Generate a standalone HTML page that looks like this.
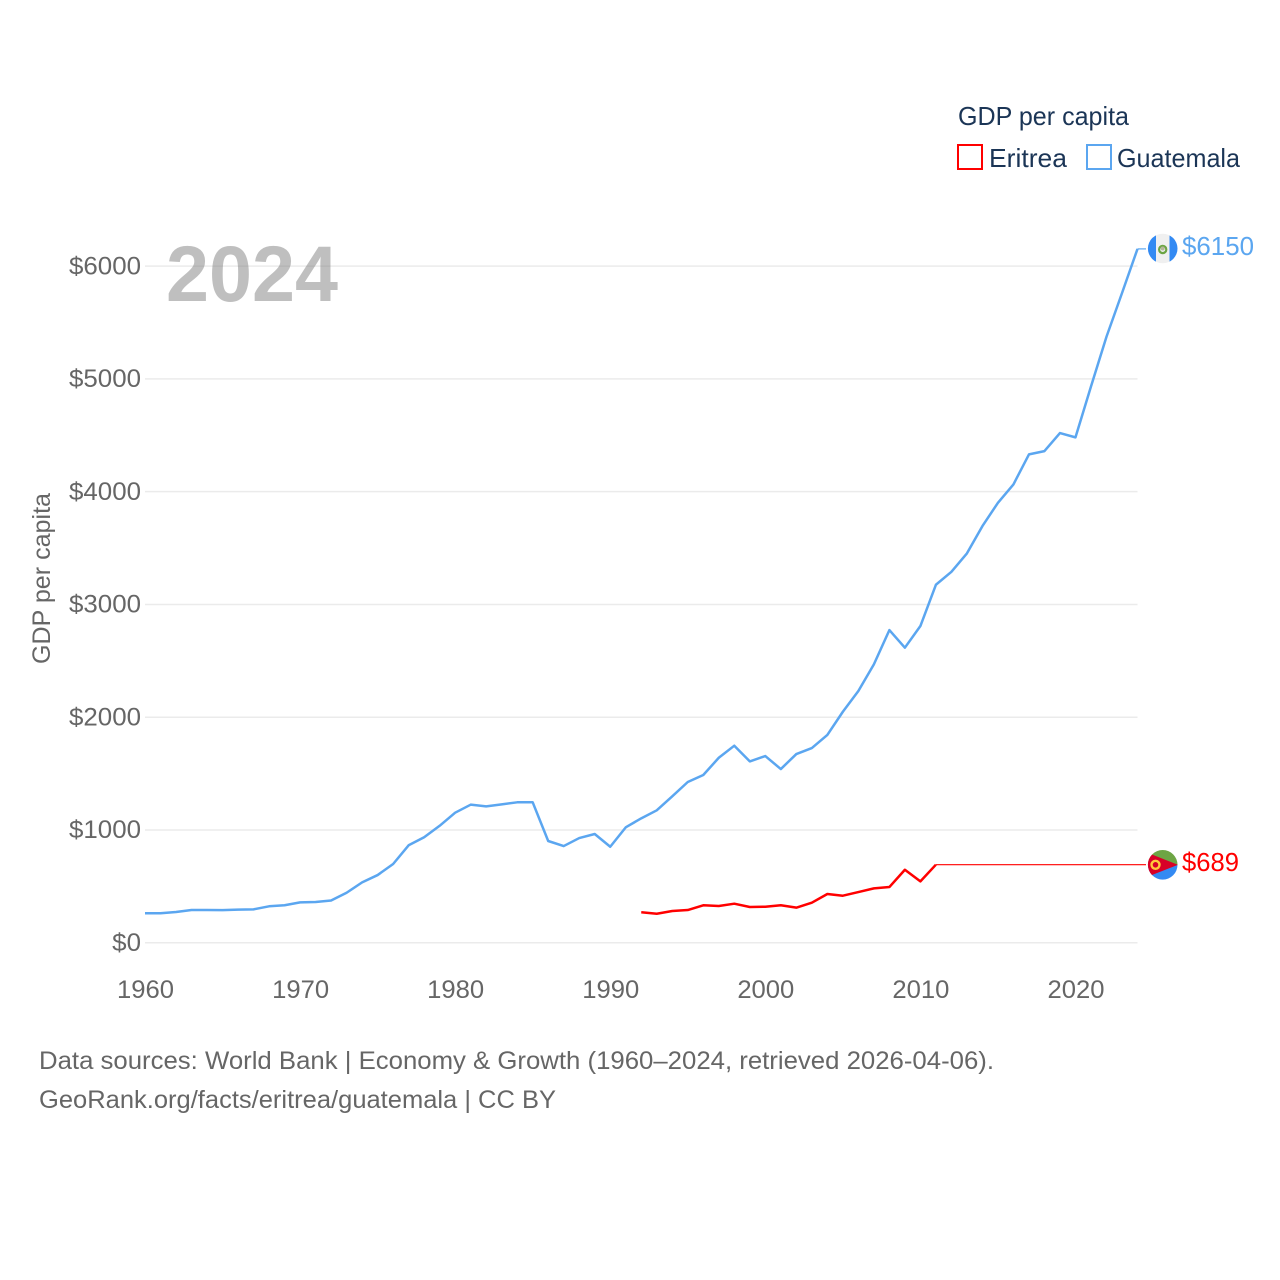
<!DOCTYPE html>
<html lang="en">
<head>
<meta charset="utf-8">
<title>GDP per capita: Eritrea and Guatemala</title>
<style>
html,body{margin:0;padding:0;background:#fff;}
svg{display:block;}
text{font-family:"Liberation Sans",sans-serif;}
</style>
</head>
<body>
<svg id="chart" xmlns="http://www.w3.org/2000/svg" width="1280" height="1280" viewBox="0 0 1280 1280">
  <defs>
    <clipPath id="flag-clip-gt"><circle cx="1162.7" cy="248.5" r="14.8"/></clipPath>
    <clipPath id="flag-clip-er"><circle cx="1162.7" cy="864.8" r="14.8"/></clipPath>
  </defs>
  <rect width="1280" height="1280" fill="#fff"/>
  <g id="grid"></g>
  <g id="y-ticks"></g>
  <g id="x-ticks"></g>
  <text x="166" y="301" font-size="79" font-weight="700" fill="#808080" fill-opacity="0.5" textLength="172" lengthAdjust="spacingAndGlyphs">2024</text>
  <text transform="translate(50,664) rotate(-90)" font-size="25" fill="#666" textLength="171" lengthAdjust="spacingAndGlyphs">GDP per capita</text>
  <g id="series"></g>

  <g>
    <text x="958" y="125" font-size="26" fill="#1b3556" textLength="171" lengthAdjust="spacingAndGlyphs">GDP per capita</text>
    <rect x="958" y="145" width="24" height="24" fill="none" stroke="#ff0000" stroke-width="2"/>
    <text x="989" y="167" font-size="26" fill="#1b3556" textLength="78" lengthAdjust="spacingAndGlyphs">Eritrea</text>
    <rect x="1087" y="145" width="24" height="24" fill="none" stroke="#5ba6f0" stroke-width="2"/>
    <text x="1117" y="167" font-size="26" fill="#1b3556" textLength="123" lengthAdjust="spacingAndGlyphs">Guatemala</text>
  </g>

  <g clip-path="url(#flag-clip-gt)">
    <rect x="1147" y="233" width="32" height="32" fill="#f0f0f0"/>
    <rect x="1147" y="233" width="9" height="32" fill="#338af3"/>
    <rect x="1169.5" y="233" width="10" height="32" fill="#338af3"/>
    <circle cx="1162.7" cy="249.5" r="3.6" fill="none" stroke="#6da544" stroke-width="2.2"/>
    <circle cx="1162.7" cy="248.5" r="2" fill="#b5b59a"/>
  </g>
  <g clip-path="url(#flag-clip-er)">
    <rect x="1147" y="849" width="32" height="16" fill="#6da544"/>
    <rect x="1147" y="865" width="32" height="16" fill="#338af3"/>
    <polygon points="1147,852.5 1178,864.8 1147,877" fill="#d80027"/>
    <circle cx="1155.5" cy="864.8" r="4" fill="none" stroke="#ffc93c" stroke-width="2.4"/>
  </g>
  <text x="1182" y="255" font-size="26" fill="#5ba6f0" textLength="72" lengthAdjust="spacingAndGlyphs">$6150</text>
  <text x="1182" y="871" font-size="26" fill="#ff0000" textLength="57" lengthAdjust="spacingAndGlyphs">$689</text>

  <text x="39" y="1069" font-size="25" fill="#666" textLength="955" lengthAdjust="spacingAndGlyphs">Data sources: World Bank | Economy &amp; Growth (1960–2024, retrieved 2026-04-06).</text>
  <text x="39" y="1108" font-size="25" fill="#666" textLength="517" lengthAdjust="spacingAndGlyphs">GeoRank.org/facts/eritrea/guatemala | CC BY</text>
</svg>
<script>
const yTickValues = [0, 1000, 2000, 3000, 4000, 5000, 6000];
const xTickValues = [1960, 1970, 1980, 1990, 2000, 2010, 2020];
const guatemalaStartYear = 1960;
const guatemalaValues = [259,259,270,288,288,287,291,294,321,330,356,359,372,441,533,598,696,862,933,1035,1151,1222,1207,1225,1243,1243,900,855,926,962,849,1021,1101,1172,1296,1423,1485,1638,1745,1606,1653,1538,1671,1724,1840,2046,2230,2466,2770,2614,2806,3172,3287,3450,3692,3899,4062,4328,4357,4517,4479,4930,5371,5758,6150];
const eritreaStartYear = 1992;
const eritreaValues = [268,255,279,288,330,324,344,315,317,330,309,353,430,415,447,480,492,645,542,690];

const NS = 'http://www.w3.org/2000/svg';
function xScale(year) { return 145 + (year - 1960) * (1137.5 - 145) / 64; }
function yScale(value) { return 942.5 - value * 0.11278; }

function makeEl(tag, parentId) {
  const el = document.createElementNS(NS, tag);
  document.getElementById(parentId).appendChild(el);
  return el;
}

yTickValues.forEach(function (v) {
  const line = makeEl('line', 'grid');
  
  
  line.setAttribute('x1', 145);
  line.setAttribute('x2', 1137.5);
  line.setAttribute('y1', yScale(v) + 0.3);
  line.setAttribute('y2', yScale(v) + 0.3);
  line.setAttribute('stroke', '#ebebeb');
  line.setAttribute('stroke-width', '1.5');

  const label = makeEl('text', 'y-ticks');
  
  
  const str = '$' + v;
  label.textContent = str;
  label.setAttribute('x', 141 - str.length * 14.4);
  label.setAttribute('y', yScale(v) + 8.5);
  label.setAttribute('font-size', '25');
  label.setAttribute('fill', '#666');
  label.setAttribute('textLength', str.length * 14.4);
  label.setAttribute('lengthAdjust', 'spacingAndGlyphs');
});

xTickValues.forEach(function (v) {
  const label = makeEl('text', 'x-ticks');
  
  
  label.textContent = String(v);
  label.setAttribute('x', xScale(v) - 28);
  label.setAttribute('y', 998);
  label.setAttribute('font-size', '25');
  label.setAttribute('fill', '#666');
  label.setAttribute('textLength', 57);
  label.setAttribute('lengthAdjust', 'spacingAndGlyphs');
});

function seriesPath(values, startYear) {
  return values.map(function (v, i) {
    return (i ? 'L' : 'M') + xScale(startYear + i).toFixed(2) + ' ' + yScale(v).toFixed(2);
  }).join(' ');
}

function drawLine(values, startYear, color, name) {
  const path = makeEl('path', 'series');
  
  
  path.setAttribute('d', seriesPath(values, startYear));
  path.setAttribute('fill', 'none');
  path.setAttribute('stroke', color);
  path.setAttribute('stroke-width', '2.5');
  path.setAttribute('stroke-linejoin', 'round');

  const lastValue = values[values.length - 1];
  const lastYear = startYear + values.length - 1;
  const connector = makeEl('line', 'series');
  
  
  connector.setAttribute('x1', xScale(lastYear));
  connector.setAttribute('y1', yScale(lastValue));
  connector.setAttribute('x2', 1146);
  connector.setAttribute('y2', yScale(lastValue));
  connector.setAttribute('stroke', color);
  connector.setAttribute('stroke-width', '1.2');
}

drawLine(guatemalaValues, guatemalaStartYear, '#5ba6f0', 'line-guatemala');
drawLine(eritreaValues, eritreaStartYear, '#ff0000', 'line-eritrea');
</script>
</body>
</html>
